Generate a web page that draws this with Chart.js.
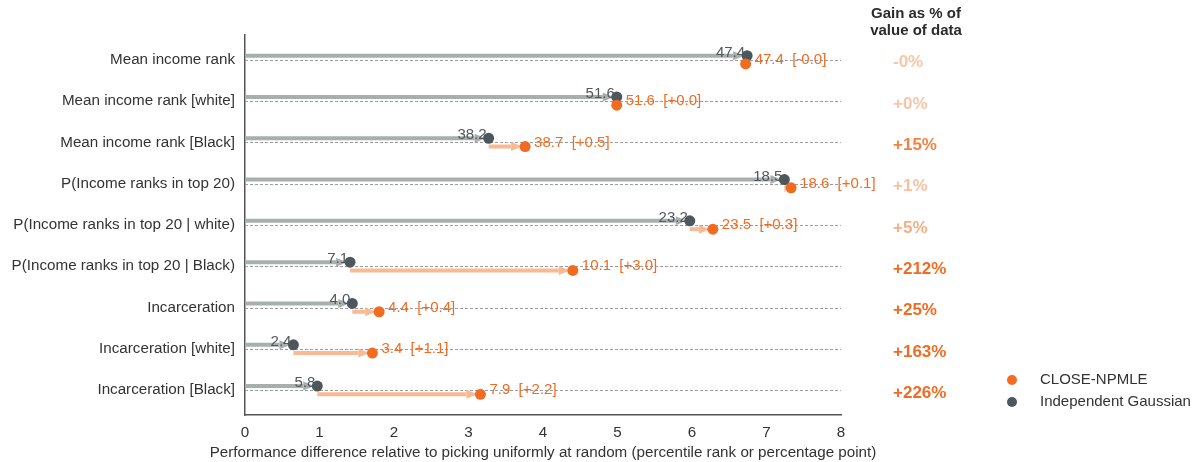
<!DOCTYPE html>
<html>
<head>
<meta charset="utf-8">
<title>CLOSE-NPMLE vs Independent Gaussian</title>
<script src="https://cdn.jsdelivr.net/npm/chart.js@4/dist/chart.umd.min.js"></script>
<style>
  html, body { margin: 0; padding: 0; background: #ffffff; }
  #wrap { width: 1198px; height: 462px; position: relative; }
</style>
</head>
<body>
<div id="wrap"><canvas id="chart"></canvas></div>
<script>
// Outcome rows, top to bottom
const categories = [
  'Mean income rank',
  'Mean income rank [white]',
  'Mean income rank [Black]',
  'P(Income ranks in top 20)',
  'P(Income ranks in top 20 | white)',
  'P(Income ranks in top 20 | Black)',
  'Incarceration',
  'Incarceration [white]',
  'Incarceration [Black]'
];

// Performance difference relative to picking uniformly at random
const gaussianPos = [6.74, 4.99, 3.27, 7.24, 5.97, 1.41, 1.44, 0.65, 0.97];
const closePos    = [6.72, 4.99, 3.76, 7.33, 6.28, 4.40, 1.80, 1.71, 3.16];

// Raw metric values printed next to each point
const gaussianValue = [47.4, 51.6, 38.2, 18.5, 23.2, 7.1, 4.0, 2.4, 5.8];
const closeValue    = [47.4, 51.6, 38.7, 18.6, 23.5, 10.1, 4.4, 3.4, 7.9];

const xTicks = [0, 1, 2, 3, 4, 5, 6, 7, 8];
const xTitle = 'Performance difference relative to picking uniformly at random (percentile rank or percentage point)';

const ORANGE = '#f26b21';
const SLATE = '#4e585c';
const ORANGE_ARROW = '#f8b993';
const GRAY_ARROW = '#a9afad';
const ROW_OFFSET = 0.1;
const FONT = "'Liberation Sans', Arial, Helvetica, sans-serif";
const TEXT_SIZE = 15.2;

Chart.defaults.font.family = FONT;
Chart.defaults.font.size = TEXT_SIZE;
Chart.defaults.color = '#333333';

function signed(v, digits) {
  const s = v.toFixed(digits);
  return v < 0 ? s : '+' + s;
}

function drawArrow(ctx, x0, x1, py, color) {
  const len = x1 - x0;
  if (Math.abs(len) < 4) return;
  const dir = Math.sign(len);
  const tip = x1 - dir * 3;
  const headLen = Math.min(11, Math.abs(tip - x0));
  const headHalf = 4.5;
  const base = tip - dir * headLen;
  ctx.strokeStyle = color;
  ctx.fillStyle = color;
  ctx.lineWidth = 4;
  ctx.lineCap = 'butt';
  ctx.beginPath();
  ctx.moveTo(x0, py);
  ctx.lineTo(base, py);
  ctx.stroke();
  ctx.beginPath();
  ctx.moveTo(tip, py);
  ctx.lineTo(base, py - headHalf);
  ctx.lineTo(base, py + headHalf);
  ctx.closePath();
  ctx.fill();
}

const overlay = {
  id: 'overlay',
  beforeDatasetsDraw(chart) {
    const { ctx, chartArea: a, scales: { x, y } } = chart;
    ctx.save();
    // dashed guide per row
    ctx.strokeStyle = '#9c9c9c';
    ctx.lineWidth = 1;
    ctx.setLineDash([3, 2]);
    categories.forEach((_, i) => {
      const py = Math.round(y.getPixelForValue(i)) + 0.5;
      ctx.beginPath();
      ctx.moveTo(a.left, py);
      ctx.lineTo(a.right, py);
      ctx.stroke();
    });
    ctx.setLineDash([]);
    // gray arrow from zero to the Gaussian point, orange arrow from there to CLOSE-NPMLE
    categories.forEach((_, i) => {
      const gy = y.getPixelForValue(i - ROW_OFFSET);
      const cy = y.getPixelForValue(i + ROW_OFFSET);
      drawArrow(ctx, x.getPixelForValue(0), x.getPixelForValue(gaussianPos[i]), gy, GRAY_ARROW);
      drawArrow(ctx, x.getPixelForValue(gaussianPos[i]), x.getPixelForValue(closePos[i]), cy, ORANGE_ARROW);
    });
    ctx.restore();
  },
  afterDatasetsDraw(chart) {
    const { ctx, chartArea: a, scales: { x, y } } = chart;
    ctx.save();
    ctx.font = '15px ' + FONT;
    categories.forEach((_, i) => {
      const gx = x.getPixelForValue(gaussianPos[i]);
      const gy = y.getPixelForValue(i - ROW_OFFSET);
      const cx = x.getPixelForValue(closePos[i]);
      const rowY = y.getPixelForValue(i);
      const diff = closePos[i] - gaussianPos[i];

      ctx.fillStyle = '#50585c';
      ctx.textAlign = 'right';
      ctx.textBaseline = 'alphabetic';
      ctx.fillText(gaussianValue[i].toFixed(1), gx - 2, gy + 1);

      ctx.fillStyle = ORANGE;
      ctx.textAlign = 'left';
      ctx.textBaseline = 'middle';
      ctx.fillText(closeValue[i].toFixed(1) + '  [' + signed(diff, 1) + ']', cx + 9, rowY);
    });

    // axis title, centred under the plot and free to run past its edges
    ctx.font = TEXT_SIZE + 'px ' + FONT;
    ctx.fillStyle = '#333333';
    ctx.textAlign = 'center';
    ctx.textBaseline = 'middle';
    ctx.fillText(xTitle, (a.left + a.right) / 2, 453);

    // gain as a share of the value of data, shaded by size
    ctx.font = 'bold 17px ' + FONT;
    ctx.textAlign = 'left';
    categories.forEach((_, i) => {
      const diff = closePos[i] - gaussianPos[i];
      const pct = diff / gaussianPos[i] * 100;
      const r = Math.abs(Math.round(pct));
      const txt = (diff < 0 ? '-' : '+') + r + '%';
      const alpha = 0.4 + 0.6 * Math.min(1, Math.max(0, pct) / 20);
      ctx.fillStyle = 'rgba(242,107,33,' + alpha.toFixed(3) + ')';
      ctx.fillText(txt, 893, y.getPixelForValue(i) + 3);
    });

    ctx.font = 'bold 15px ' + FONT;
    ctx.fillStyle = '#2b2b2b';
    ctx.textAlign = 'center';
    ctx.fillText('Gain as % of', 916, 14);
    ctx.fillText('value of data', 916, 31);

    // legend
    ctx.font = '15px ' + FONT;
    ctx.textAlign = 'left';
    chart.data.datasets.forEach((ds, k) => {
      const ly = 380 + k * 22;
      ctx.fillStyle = ds.backgroundColor;
      ctx.beginPath();
      ctx.arc(1012, ly, 5, 0, Math.PI * 2);
      ctx.fill();
      ctx.fillStyle = '#333333';
      ctx.fillText(ds.label, 1040, ly);
    });
    ctx.restore();
  }
};

new Chart(document.getElementById('chart'), {
  type: 'scatter',
  data: {
    datasets: [
      {
        label: 'CLOSE-NPMLE',
        data: closePos.map((v, i) => ({ x: v, y: i + ROW_OFFSET })),
        backgroundColor: ORANGE,
        borderWidth: 0,
        pointRadius: 5.5
      },
      {
        label: 'Independent Gaussian',
        data: gaussianPos.map((v, i) => ({ x: v, y: i - ROW_OFFSET })),
        backgroundColor: SLATE,
        borderWidth: 0,
        pointRadius: 5.5
      }
    ]
  },
  options: {
    responsive: true,
    maintainAspectRatio: false,
    animation: false,
    events: [],
    layout: { padding: { top: 35, right: 357, left: 0, bottom: 0 } },
    plugins: { legend: { display: false }, tooltip: { enabled: false } },
    scales: {
      x: {
        type: 'linear',
        min: xTicks[0],
        max: xTicks[xTicks.length - 1],
        afterBuildTicks: s => { s.ticks = xTicks.map(v => ({ value: v })); },
        afterFit: s => { s.height = 47; },
        grid: { display: false, drawTicks: false },
        border: { display: true, color: '#555555', width: 1.5 },
        ticks: { padding: 9, color: '#333333', font: { size: TEXT_SIZE } },
        title: { display: false }
      },
      y: {
        type: 'linear',
        reverse: true,
        min: -0.6,
        max: categories.length - 1 + 0.6,
        afterBuildTicks: s => { s.ticks = categories.map((_, i) => ({ value: i })); },
        afterFit: s => { s.width = 245; },
        grid: { display: false, drawTicks: false },
        border: { display: true, color: '#555555', width: 1.5 },
        ticks: {
          padding: 10,
          color: '#333333',
          font: { size: TEXT_SIZE },
          callback: v => categories[v]
        }
      }
    }
  },
  plugins: [overlay]
});
</script>
</body>
</html>
